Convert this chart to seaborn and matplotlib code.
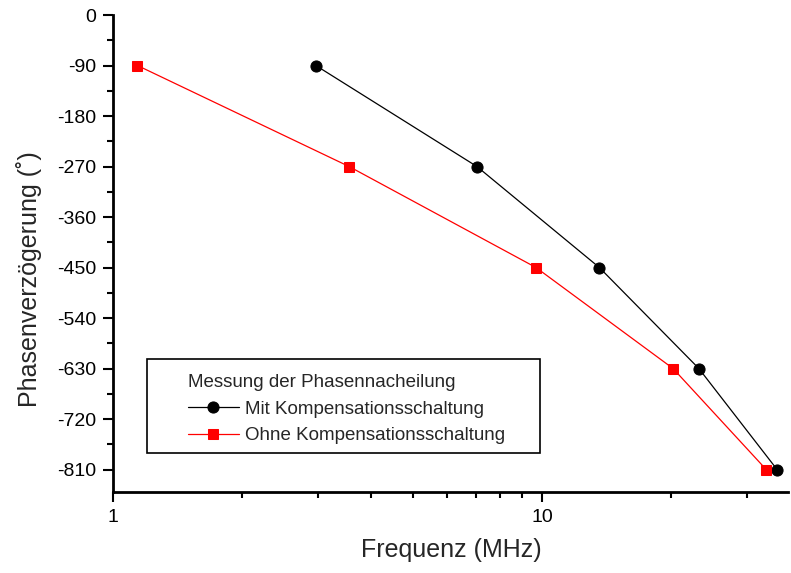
import matplotlib
matplotlib.use("Agg")
import matplotlib.pyplot as plt
import seaborn as sns
import pandas as pd
from matplotlib.patches import Rectangle
from matplotlib.ticker import FixedLocator, NullFormatter, LogLocator

# Data
freq_mit = [2.97, 7.05, 13.6, 23.2, 35.3]
phase_mit = [-90, -270, -450, -630, -810]
freq_ohne = [1.14, 3.55, 9.68, 20.2, 33.3]
phase_ohne = [-90, -270, -450, -630, -810]
yticks = [0, -90, -180, -270, -360, -450, -540, -630, -720, -810]
xticks = [1, 10]

sns.set_theme(style="ticks")
plt.rcParams["font.family"] = ["Liberation Sans", "DejaVu Sans"]
plt.rcParams["axes.unicode_minus"] = False

fig = plt.figure(figsize=(7.91, 5.73), dpi=100)
ax = fig.add_axes([0.1429, 0.1414, 0.8531, 0.8324])

df_mit = pd.DataFrame({"f": freq_mit, "p": phase_mit})
df_ohne = pd.DataFrame({"f": freq_ohne, "p": phase_ohne})

sns.lineplot(data=df_mit, x="f", y="p", ax=ax, color="black", marker="o",
             markersize=8, linewidth=0.9, markeredgecolor="black",
             label="Mit Kompensationsschaltung", sort=False)
sns.lineplot(data=df_ohne, x="f", y="p", ax=ax, color="red", marker="s",
             markersize=7.5, linewidth=0.9, markeredgecolor="red",
             label="Ohne Kompensationsschaltung", sort=False)

ax.set_xscale("log")
ax.set_xlim(1, 37.4)
ax.set_ylim(-850, 0)
ax.set_xticks(xticks)
ax.set_xticklabels([str(t) for t in xticks])
ax.xaxis.set_minor_locator(LogLocator(base=10, subs=range(2, 10)))
ax.xaxis.set_minor_formatter(NullFormatter())
ax.set_yticks(yticks)
ax.set_yticklabels([str(t) for t in yticks])
ax.yaxis.set_minor_locator(FixedLocator([-45 - 90 * i for i in range(9)]))

for s in ["top", "right"]:
    ax.spines[s].set_visible(False)
for s in ["left", "bottom"]:
    ax.spines[s].set_linewidth(2)
    ax.spines[s].set_color("black")

ax.tick_params(axis="both", which="major", direction="out", length=7, width=1.5,
               labelsize=14, colors="black", pad=5)
ax.tick_params(axis="both", which="minor", direction="out", length=4, width=1.5,
               colors="black")

ax.set_xlabel("Frequenz (MHz)", fontsize=18)
ax.set_ylabel("Phasenverzögerung (˚)", fontsize=18)
ax.xaxis.set_label_coords(0.502, -0.097)
ax.yaxis.set_label_coords(-0.105, 0.447)

# Legend box
rect = Rectangle((0.050, 0.082), 0.583, 0.197, transform=ax.transAxes,
                 facecolor="white", edgecolor="black", linewidth=1.2, zorder=4)
ax.add_patch(rect)
leg = ax.legend(title="Messung der Phasennacheilung", loc="upper left",
                bbox_to_anchor=(0.111, 0.247), frameon=False, fontsize=13.5,
                title_fontsize=13.5, handlelength=2.7, handletextpad=0.32,
                labelspacing=0.5, borderpad=0, borderaxespad=0,
                alignment="left")
leg.set_zorder(5)

fig.savefig("out.png", dpi=100)
